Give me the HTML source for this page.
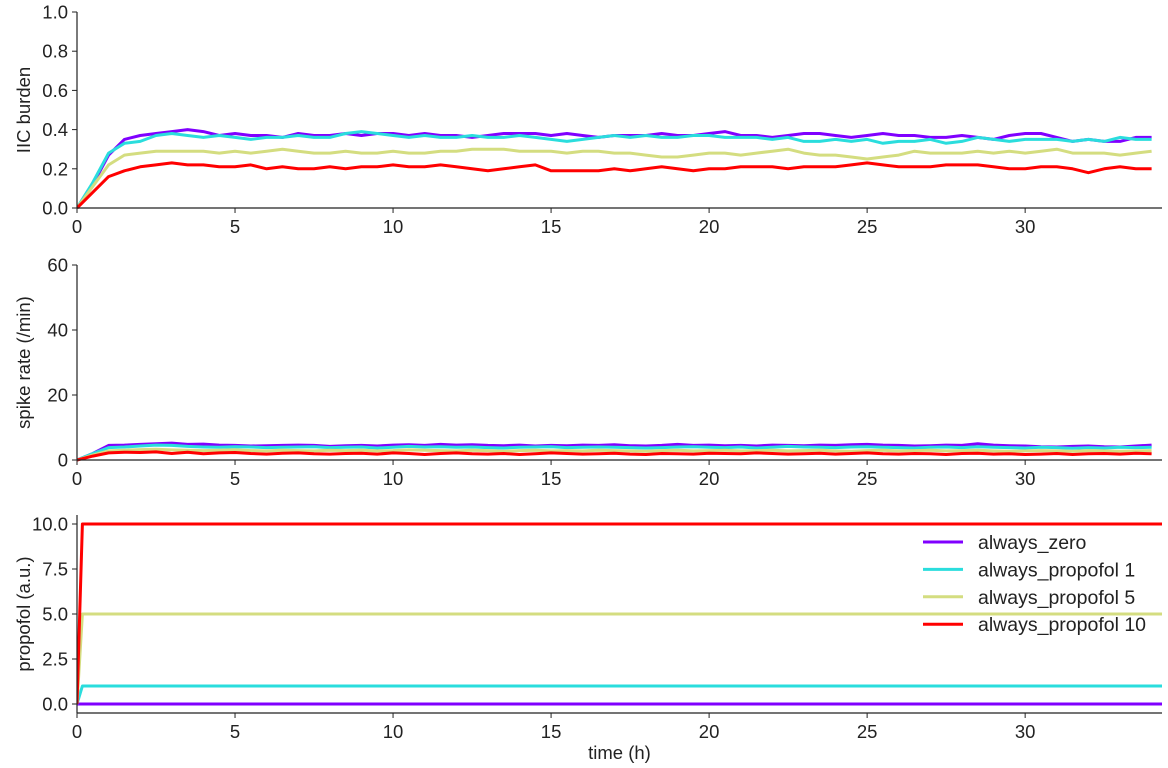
<!DOCTYPE html>
<html><head><meta charset="utf-8"><style>
html,body{margin:0;padding:0;background:#fff}
svg{display:block;font-family:"Liberation Sans",sans-serif}
</style></head><body>
<svg id="chart" width="1168" height="768" xmlns="http://www.w3.org/2000/svg"></svg>
<script>
const dt = 0.5;
const xTicks = [0,5,10,15,20,25,30];
const seriesNames = ["always_zero","always_propofol 1","always_propofol 5","always_propofol 10"];
const seriesColors = ["#8000ff","#2adddd","#d4dd80","#ff0000"];
const iicZero = [0,0.12,0.27,0.35,0.37,0.38,0.39,0.40,0.39,0.37,0.38,0.37,0.37,0.36,0.38,0.37,0.37,0.38,0.37,0.38,0.38,0.37,0.38,0.37,0.37,0.36,0.37,0.38,0.38,0.38,0.37,0.38,0.37,0.36,0.37,0.37,0.37,0.38,0.37,0.37,0.38,0.39,0.37,0.37,0.36,0.37,0.38,0.38,0.37,0.36,0.37,0.38,0.37,0.37,0.36,0.36,0.37,0.36,0.35,0.37,0.38,0.38,0.36,0.34,0.35,0.34,0.34,0.36,0.36];
const iicP1 = [0,0.13,0.28,0.33,0.34,0.37,0.38,0.37,0.36,0.37,0.36,0.35,0.36,0.36,0.37,0.36,0.36,0.38,0.39,0.38,0.37,0.36,0.37,0.36,0.36,0.37,0.36,0.36,0.37,0.36,0.35,0.34,0.35,0.36,0.37,0.36,0.37,0.36,0.36,0.37,0.37,0.36,0.36,0.36,0.35,0.36,0.34,0.34,0.35,0.34,0.35,0.33,0.34,0.34,0.35,0.33,0.34,0.36,0.35,0.34,0.35,0.35,0.35,0.34,0.35,0.34,0.36,0.35,0.35];
const iicP5 = [0,0.11,0.22,0.27,0.28,0.29,0.29,0.29,0.29,0.28,0.29,0.28,0.29,0.30,0.29,0.28,0.28,0.29,0.28,0.28,0.29,0.28,0.28,0.29,0.29,0.30,0.30,0.30,0.29,0.29,0.29,0.28,0.29,0.29,0.28,0.28,0.27,0.26,0.26,0.27,0.28,0.28,0.27,0.28,0.29,0.30,0.28,0.27,0.27,0.26,0.25,0.26,0.27,0.29,0.28,0.28,0.28,0.29,0.28,0.29,0.28,0.29,0.30,0.28,0.28,0.28,0.27,0.28,0.29];
const iicP10 = [0,0.08,0.16,0.19,0.21,0.22,0.23,0.22,0.22,0.21,0.21,0.22,0.20,0.21,0.20,0.20,0.21,0.20,0.21,0.21,0.22,0.21,0.21,0.22,0.21,0.20,0.19,0.20,0.21,0.22,0.19,0.19,0.19,0.19,0.20,0.19,0.20,0.21,0.20,0.19,0.20,0.20,0.21,0.21,0.21,0.20,0.21,0.21,0.21,0.22,0.23,0.22,0.21,0.21,0.21,0.22,0.22,0.22,0.21,0.20,0.20,0.21,0.21,0.20,0.18,0.20,0.21,0.20,0.20];
const spikeZero = [0,2,4.5,4.6,4.8,5,5.2,4.8,4.9,4.6,4.5,4.3,4.4,4.5,4.6,4.5,4.2,4.4,4.5,4.3,4.6,4.7,4.5,4.8,4.6,4.7,4.5,4.4,4.6,4.3,4.5,4.4,4.6,4.5,4.7,4.4,4.3,4.5,4.8,4.5,4.6,4.4,4.5,4.3,4.6,4.5,4.4,4.6,4.5,4.7,4.8,4.6,4.5,4.3,4.4,4.6,4.5,5.0,4.6,4.4,4.3,4.1,4.0,4.2,4.3,4.1,4.0,4.3,4.6];
const spikeP1 = [0,2,3.8,4.0,4.3,4.6,4.5,4.2,4.0,3.9,4.1,4.0,3.8,3.9,4.0,4.1,3.8,3.9,4.0,3.7,3.9,4.2,4.0,4.1,3.9,4.0,3.8,3.7,3.9,4.0,4.1,3.8,3.9,4.0,3.9,3.8,3.7,3.8,4.0,4.1,3.9,3.8,4.0,3.7,3.9,4.2,4.0,3.9,3.8,4.0,4.1,3.9,3.8,3.7,3.9,4.0,3.8,4.1,3.9,3.8,3.7,3.9,3.8,3.6,3.8,3.7,3.9,3.8,3.9];
const spikeP5 = [0,1.5,2.8,3.0,3.2,3.3,3.1,3.0,2.9,3.0,3.1,2.9,2.8,3.0,2.9,2.8,3.0,2.9,3.0,2.8,2.9,3.1,3.0,2.9,2.8,3.0,2.9,2.7,2.9,3.0,2.8,2.9,2.8,3.0,2.9,2.8,2.7,2.9,3.0,2.8,2.9,3.0,2.8,2.9,3.0,2.8,2.9,3.0,2.8,2.7,2.9,3.0,2.8,2.9,3.0,2.8,2.9,3.0,2.8,2.7,2.8,2.9,2.8,2.7,2.9,2.8,2.7,2.8,2.9];
const spikeP10 = [0,1.2,2.2,2.4,2.3,2.5,2.0,2.4,1.9,2.2,2.3,2.0,1.8,2.1,2.2,1.9,1.8,2.0,2.1,1.8,2.2,2.0,1.7,2.0,2.2,1.9,1.8,2.0,1.7,1.9,2.2,2.0,1.8,1.9,2.1,1.8,1.7,2.0,1.9,1.8,2.1,2.0,1.9,2.2,2.0,1.8,1.9,2.1,1.8,2.0,2.2,1.9,1.8,2.0,1.9,1.7,2.0,2.1,1.8,1.9,1.7,1.8,2.0,1.7,1.9,2.0,1.8,2.1,1.9];
const propTimes = [0,0.17,34.33];
const propZero = [0,0,0];
const propP1 = [0,1,1];
const propP5 = [0,5,5];
const propP10 = [0,10,10];

const NS="http://www.w3.org/2000/svg";
const svg=document.getElementById('chart');
function mk(tag,attrs,parent){const e=document.createElementNS(NS,tag);for(const k in attrs)e.setAttribute(k,attrs[k]);(parent||svg).appendChild(e);return e;}
const X0=77,X1=1162,XMAX=34.33;
const xs=v=>X0+(v/XMAX)*(X1-X0);

const panels=[
 {name:'iic',top:12,bottom:208,ymin:0,ymax:1,yt:[0,0.2,0.4,0.6,0.8,1.0],fmt:v=>v.toFixed(1),label:'IIC burden',data:[iicZero,iicP1,iicP5,iicP10],spineBottom:208},
 {name:'spike',top:265,bottom:460,ymin:0,ymax:60,yt:[0,20,40,60],fmt:v=>String(v),label:'spike rate (/min)',data:[spikeZero,spikeP1,spikeP5,spikeP10],spineBottom:460},
 {name:'propofol',top:515,bottom:713,ymin:-0.5,ymax:10.5,yt:[0,2.5,5,7.5,10],fmt:v=>v.toFixed(1),label:'propofol (a.u.)',data:[propZero,propP1,propP5,propP10],times:propTimes,spineBottom:713}
];
panels.forEach(p=>{
 const g=mk('g',{});
 
 
 const ys=v=>p.bottom-(v-p.ymin)/(p.ymax-p.ymin)*(p.bottom-p.top);
 const clipId='clip-'+p.name;
 const cp=mk('clipPath',{id:clipId},g);mk('rect',{x:X0,y:p.top-5,width:X1-X0,height:p.bottom-p.top+10},cp);
 p.data.forEach((arr,i)=>{
  const pts=arr.map((v,j)=>(p.times?xs(p.times[j]):xs(j*dt)).toFixed(1)+','+ys(v).toFixed(1)).join(' ');
  const l=mk('polyline',{points:pts,fill:'none',stroke:seriesColors[i],'stroke-width':3,'stroke-linejoin':'round','clip-path':'url(#'+clipId+')'},g);
  
  
 });
 mk('line',{x1:X0,y1:p.top,x2:X0,y2:p.spineBottom,stroke:'#222','stroke-width':1.2},g);
 mk('line',{x1:X0,y1:p.spineBottom,x2:X1,y2:p.spineBottom,stroke:'#222','stroke-width':1.2},g);
 xTicks.forEach(t=>{
  mk('line',{x1:xs(t),y1:p.spineBottom,x2:xs(t),y2:p.spineBottom+5,stroke:'#222'},g);
  const tx=mk('text',{x:xs(t),y:p.spineBottom+25,'text-anchor':'middle','font-size':18.5,fill:'#222'},g);tx.textContent=t;
  
  
 });
 p.yt.forEach(t=>{
  mk('line',{x1:X0-5,y1:ys(t),x2:X0,y2:ys(t),stroke:'#222'},g);
  const tx=mk('text',{x:X0-9,y:ys(t)+6.5,'text-anchor':'end','font-size':18.5,fill:'#222'},g);tx.textContent=p.fmt(t);
  
  
 });
 const cy=(p.top+p.spineBottom)/2;
 const yl=mk('text',{x:30,y:cy,transform:'rotate(-90 30 '+cy+')','text-anchor':'middle','font-size':18.5,fill:'#222'},g);yl.textContent=p.label;
 
 
});
const xl=mk('text',{x:(X0+X1)/2,y:759,'text-anchor':'middle','font-size':18.5,fill:'#222'});xl.textContent='time (h)';


const lg=mk('g',{});


seriesNames.forEach((n,i)=>{
 const y=542+i*27.4;
 mk('line',{x1:923,y1:y,x2:963,y2:y,stroke:seriesColors[i],'stroke-width':3},lg);
 const t=mk('text',{x:978,y:y+7,'font-size':19.5,fill:'#222'},lg);t.textContent=n;
 
 
});
</script>
</body></html>
